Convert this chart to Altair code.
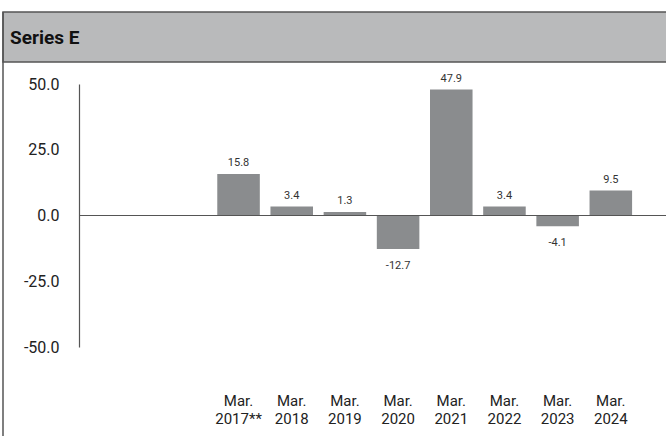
import altair as alt
import pandas as pd

# ---- data ----
slots = ["", " ", "Mar. 2017**", "Mar. 2018", "Mar. 2019", "Mar. 2020",
         "Mar. 2021", "Mar. 2022", "Mar. 2023", "Mar. 2024"]
periods = ["Mar. 2017**", "Mar. 2018", "Mar. 2019", "Mar. 2020",
           "Mar. 2021", "Mar. 2022", "Mar. 2023", "Mar. 2024"]
values = [15.8, 3.4, 1.3, -12.7, 47.9, 3.4, -4.1, 9.5]
y_ticks = [-50, -25, 0, 25, 50]
title_text = "Series E"

df = pd.DataFrame({"period": periods, "value": values})
one = pd.DataFrame({"k": [0]})

FONT = "Roboto"
BAR = "#8a8c8e"
LINE = "#555555"

x_scale = alt.Scale(domain=slots, paddingInner=0.2, paddingOuter=0.6)

x_enc = alt.X(
    "period:N",
    scale=x_scale,
    axis=alt.Axis(
        title=None, labelAngle=0, domain=False, ticks=False, tickSize=0,
        labelExpr="split(datum.value, ' ')", labelPadding=46,
        labelFontSize=15, labelLineHeight=18, labelBaseline="top",
        labelColor="#222222", labelFont=FONT,
    ),
)
y_enc = alt.Y(
    "value:Q",
    scale=alt.Scale(domain=[-50, 50], nice=False, zero=False),
    axis=alt.Axis(
        title=None, values=y_ticks, grid=False, ticks=False,
        labelExpr="replace(format(datum.value, '.1f'), '\u2212', '-')",
        domainColor=LINE, domainWidth=1.2, labelPadding=20,
        labelFontSize=16, labelColor="#222222", labelFont=FONT,
    ),
)

base = alt.Chart(df).transform_calculate(
    label="replace(format(datum.value, '.1f'), '\u2212', '-')"
)

bars = base.mark_bar(color=BAR).encode(x=x_enc, y=y_enc)

pos_labels = base.transform_filter("datum.value >= 0").mark_text(
    baseline="bottom", dy=-6, fontSize=11, font=FONT, color="#333333"
).encode(x=alt.X("period:N", scale=x_scale), y="value:Q", text="label:N")

neg_labels = base.transform_filter("datum.value < 0").mark_text(
    baseline="top", dy=11, fontSize=11, font=FONT, color="#333333"
).encode(x=alt.X("period:N", scale=x_scale), y="value:Q", text="label:N")

zero_rule = alt.Chart(one).mark_rule(color=LINE, strokeWidth=1.2).encode(
    y=alt.datum(0), x=alt.value(0), x2=alt.value(590)
)

header = alt.Chart(one).mark_rect(
    fill="#b9babb", stroke=LINE, strokeWidth=1.5
).encode(x=alt.value(-76), x2=alt.value(600), y=alt.value(-72), y2=alt.value(-22))

left_border = alt.Chart(one).mark_rule(color=LINE, strokeWidth=1.5).encode(
    x=alt.value(-76), y=alt.value(-72), y2=alt.value(360)
)

header_text = alt.Chart(one).mark_text(
    align="left", baseline="middle", fontSize=19, fontWeight="bold",
    font=FONT, color="#111111"
).encode(x=alt.value(-69), y=alt.value(-46), text=alt.value(title_text))

chart = alt.layer(
    header, left_border, bars, zero_rule, pos_labels, neg_labels, header_text
).properties(
    width=585, height=263,
    autosize=alt.AutoSizeParams(type="none"),
    padding={"left": 79, "top": 84, "right": 2, "bottom": 89},
    background="white",
).configure_view(stroke=None)

chart.save("out.html", embed_options={"renderer": "svg", "actions": False})
